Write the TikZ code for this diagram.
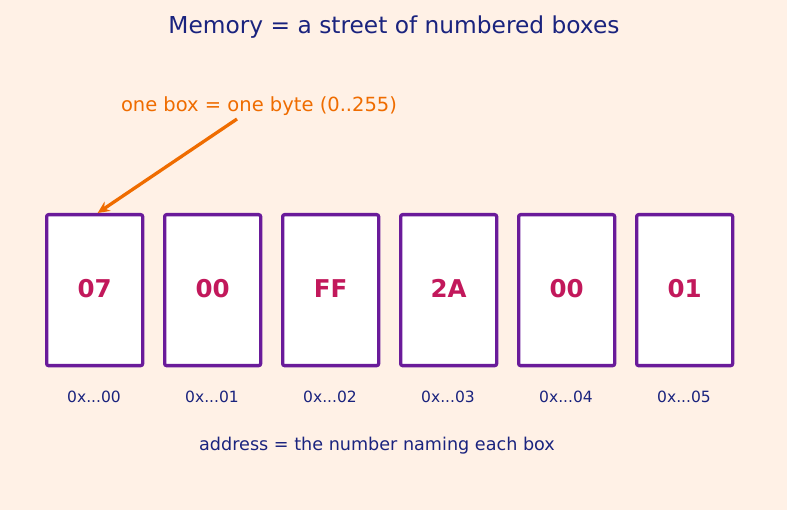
\documentclass[tikz,border=0pt]{standalone}
\usepackage{fontspec}
\setmainfont{DejaVu Sans}
\usetikzlibrary{arrows.meta}
\definecolor{bg}{HTML}{FFF1E6}
\definecolor{navy}{HTML}{1A237E}
\definecolor{boxpurple}{HTML}{6A1B9A}
\definecolor{valred}{HTML}{C2185B}
\definecolor{orng}{HTML}{EF6C00}
\tikzset{
  membox/.style={draw=boxpurple, line width=3.3pt, fill=white, rounded corners=2pt,
    minimum width=96pt, minimum height=151pt, inner sep=0pt, anchor=north west},
  val/.style={text=valred, font=\fontsize{24.5}{28}\selectfont\bfseries, inner sep=0pt,
    text height=17.8pt, text depth=0pt},
  addr/.style={text=navy, font=\fontsize{15.5}{18}\selectfont, inner sep=0pt},
}
\begin{document}
\begin{tikzpicture}[x=1pt,y=-1pt]
\fill[bg] (0,0) rectangle (787,510);
\useasboundingbox (0,0) rectangle (787,510);
\node[text=navy, font=\fontsize{23.3}{27}\selectfont, inner sep=0pt] (title) at (394,27) {Memory = a street of numbered boxes};
\node[text=orng, font=\fontsize{19.5}{23}\selectfont, inner sep=0pt] (note) at (259,106) {one box = one byte (0..255)};
\foreach \i/\v in {0/07,1/00,2/FF,3/2A,4/00,5/01}{
  \node[membox] (b\i) at (45+118*\i,213) {};
  \node[val] (v\i) at ([yshift=2pt]b\i.center) {\v};
  \node[addr] (a\i) at (94+118*\i,397) {0x...0\i};
}
\coordinate (ns) at (237,119);
\draw[orng, line width=3.3pt, -{Stealth[length=12pt,width=11pt]}] (ns) -- ([xshift=3pt]b0.north);
\node[text=navy, font=\fontsize{17.6}{21}\selectfont, inner sep=0pt] (foot) at (377,446) {address = the number naming each box};
\end{tikzpicture}
\end{document}
